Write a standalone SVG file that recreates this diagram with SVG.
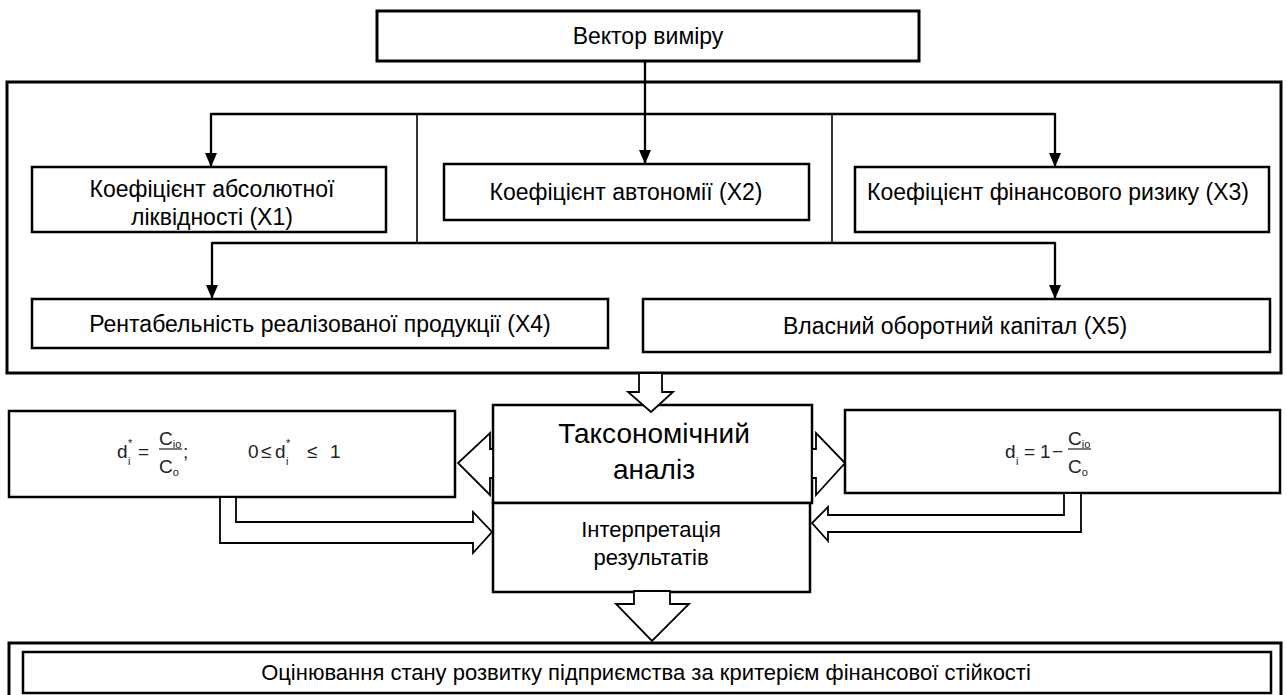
<svg xmlns="http://www.w3.org/2000/svg" width="1287" height="695" viewBox="0 0 1287 695">
<style>
.box{fill:#fff;stroke:#000;stroke-width:2.5}
.frame{fill:none;stroke:#000;stroke-width:3}
.con{fill:none;stroke:#000;stroke-width:2.3}
.div{fill:none;stroke:#000;stroke-width:1.6}
.blk{fill:#fff;stroke:#000;stroke-width:1.8;stroke-linejoin:miter}
.t{font-family:"Liberation Sans",Arial,sans-serif;font-size:23px;fill:#000;text-anchor:middle}
.big{font-size:28px}
.mid{font-size:22px}
.f{font-family:"Liberation Sans",Arial,sans-serif;font-size:19px;fill:#222}
.fs{font-family:"Liberation Sans",Arial,sans-serif;font-size:11px;fill:#222}
</style>
<defs>
<marker id="ah" viewBox="0 0 14 12" refX="14" refY="6" markerWidth="14" markerHeight="12" markerUnits="userSpaceOnUse" orient="auto">
<path d="M0,0 L14,6 L0,12 z" fill="#000"/>
</marker>
</defs>
<rect width="1287" height="695" fill="#fff"/>

<g id="frame-top">
<rect class="frame" x="7" y="82" width="1274" height="291"/>
</g>

<g id="connectors">
<line class="con" x1="645" y1="61" x2="645" y2="164" marker-end="url(#ah)"/>
<line class="con" x1="211" y1="114" x2="1055" y2="114"/>
<line class="con" x1="211" y1="113" x2="211" y2="167" marker-end="url(#ah)"/>
<line class="con" x1="1055" y1="113" x2="1055" y2="167" marker-end="url(#ah)"/>
<line class="div" x1="417" y1="114" x2="417" y2="243"/>
<line class="div" x1="832" y1="114" x2="832" y2="243"/>
<line class="con" x1="212" y1="243" x2="1055" y2="243"/>
<line class="con" x1="212" y1="242" x2="212" y2="299" marker-end="url(#ah)"/>
<line class="con" x1="1055" y1="242" x2="1055" y2="299" marker-end="url(#ah)"/>
</g>

<g id="n-vector">
<rect class="box" x="377" y="11" width="542" height="50" style="stroke-width:3"/>
<text class="t" x="648" y="44">Вектор виміру</text>
</g>

<g id="n-x1">
<rect class="box" x="32" y="167" width="354" height="65"/>
<text class="t" x="212" y="197">Коефіцієнт абсолютної</text>
<text class="t" x="212" y="225">ліквідності (X1)</text>
</g>

<g id="n-x2">
<rect class="box" x="444" y="164" width="365" height="56"/>
<text class="t" x="626" y="200">Коефіцієнт автономії (X2)</text>
</g>

<g id="n-x3">
<rect class="box" x="855" y="167" width="414" height="65"/>
<text class="t" x="1058" y="200">Коефіцієнт фінансового ризику (X3)</text>
</g>

<g id="n-x4">
<rect class="box" x="32" y="299" width="576" height="49"/>
<text class="t" x="320" y="332">Рентабельність реалізованої продукції (X4)</text>
</g>

<g id="n-x5">
<rect class="box" x="643" y="299" width="627" height="53"/>
<text class="t" x="955" y="334">Власний оборотний капітал (X5)</text>
</g>

<g id="n-formula-left">
<rect class="box" x="9" y="411" width="446" height="86"/>
<text class="f" x="117" y="458">d</text>
<text class="fs" x="128" y="447">*</text>
<text class="fs" x="128" y="465">i</text>
<text class="f" x="138" y="458">=</text>
<text class="f" x="159" y="445">C<tspan class="fs" dy="3">io</tspan></text>
<line x1="159" y1="449" x2="182" y2="449" stroke="#222" stroke-width="1.2"/>
<text class="f" x="159" y="473">C<tspan class="fs" dy="3">o</tspan></text>
<text class="f" x="183" y="458">;</text>
<text class="f" x="248" y="458">0</text>
<text class="f" x="261" y="458">≤</text>
<text class="f" x="275" y="458">d</text>
<text class="fs" x="286" y="447">*</text>
<text class="fs" x="286" y="465">i</text>
<text class="f" x="307" y="458">≤</text>
<text class="f" x="330" y="458">1</text>
</g>

<g id="n-formula-right">
<rect class="box" x="845" y="410" width="435" height="83"/>
<text class="f" x="1005" y="458">d</text>
<text class="fs" x="1016" y="465">i</text>
<text class="f" x="1024" y="458">=</text>
<text class="f" x="1040" y="458">1</text>
<text class="f" x="1052" y="458">−</text>
<text class="f" x="1068" y="445">C<tspan class="fs" dy="3">io</tspan></text>
<line x1="1068" y1="449" x2="1091" y2="449" stroke="#222" stroke-width="1.2"/>
<text class="f" x="1068" y="473">C<tspan class="fs" dy="3">o</tspan></text>
</g>

<g id="n-taxonomy">
<rect class="box" x="493" y="405" width="319" height="98"/>
<text class="t big" x="654" y="443">Таксономічний</text>
<text class="t big" x="654" y="479">аналіз</text>
</g>

<g id="n-interp">
<path class="box" d="M634,592 L493,592 L493,503 L810,503 L810,592 L670,592"/>
<text class="t mid" x="651" y="537">Інтерпретація</text>
<text class="t mid" x="651" y="565">результатів</text>
</g>

<g id="block-arrows">
<polygon class="blk" points="639,373 662,373 662,392 673,392 651,412 628,392 639,392"/>
<polygon class="blk" points="493,449 490,449 490,433 458,463 490,495 490,478 493,478"/>
<polygon class="blk" points="812,449 816,449 816,433 845,463 816,495 816,478 812,478"/>
<polygon class="blk" points="220,497 220,543 473,543 473,553 492,532 473,512 473,522 236,522 236,497"/>
<polygon class="blk" points="1081,493 1081,532 828,532 828,541 812,523 828,507 828,515 1064,515 1064,493"/>
<polygon class="blk" points="634,591 634,604 616,604 652,641 689,604 670,604 670,591"/>
</g>

<g id="n-result">
<rect class="frame" x="9" y="643" width="1272" height="60"/>
<rect class="box" x="23" y="652" width="1248" height="41"/>
<text class="t" x="646" y="680" style="font-size:22px">Оцінювання стану розвитку підприємства за критерієм фінансової стійкості</text>
</g>
</svg>
